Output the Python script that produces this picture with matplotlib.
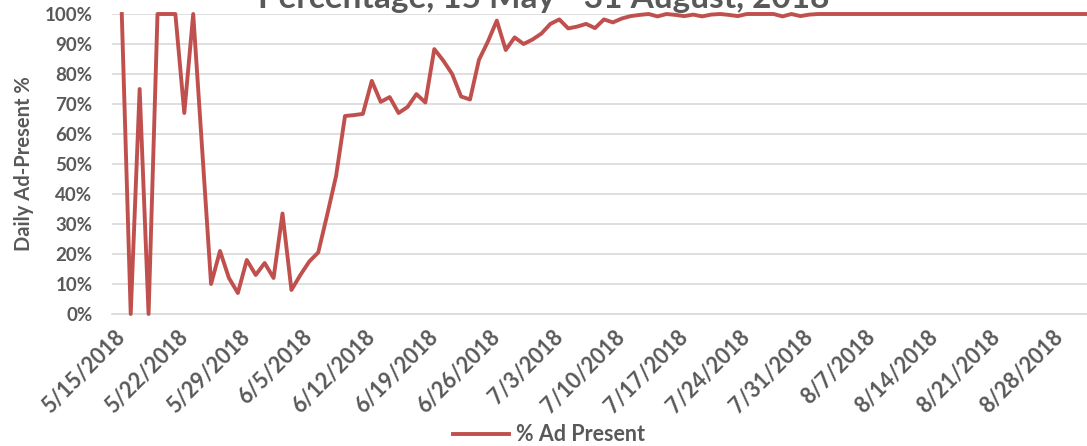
import numpy as np
import pandas as pd
import matplotlib
matplotlib.use("Agg")
import matplotlib.pyplot as plt

plt.rcParams['font.family'] = ['Lato', 'DejaVu Sans']

# daily share of pages with an ad present, 15 May - 31 Aug 2018
dates = pd.date_range('2018-05-15', '2018-08-31', freq='D')
ad_present = [
    100, 0, 75, 0, 100, 100, 100, 67, 100, 55,
    10, 21, 12, 7, 18, 13, 17, 12, 33.5, 8,
    13, 17.5, 20.5, 33, 46, 66, 66.3, 66.7, 77.7, 70.7,
    72.3, 67, 69, 73.3, 70.5, 88.3, 84.5, 80, 72.5, 71.5,
    84.7, 90.8, 97.8, 88, 92.2, 90, 91.5, 93.5, 96.7, 98.2,
    95.2, 95.8, 96.7, 95.3, 98.2, 97.2, 98.5, 99.3, 99.7, 100,
    99.2, 100, 99.7, 99.3, 99.8, 99.2, 99.8, 100, 99.7, 99.3,
    100, 100, 100, 100, 99.2, 100, 99.3, 99.8, 100, 100,
    100, 100, 100, 100, 100, 100, 100, 100, 100, 100,
    100, 100, 100, 100, 100, 100, 100, 100, 100, 100,
    100, 100, 100, 100, 100, 100, 100, 100, 100,
]
tick_dates = pd.date_range('2018-05-15', '2018-08-28', freq='7D')
tick_labels = [f"{d.month}/{d.day}/{d.year}" for d in tick_dates]
y_ticks = list(range(0, 101, 10))

grey = '#595959'
red = '#C0504D'

fig = plt.figure(figsize=(10.87, 4.46), dpi=100)
ax = fig.add_axes([0.103, 0.296, 0.897, 0.6726])

ax.plot(dates, ad_present, color=red, lw=2.8, label='% Ad Present',
        clip_on=False, solid_joinstyle='round', zorder=3)

ax.set_ylim(0, 100)
ax.set_xlim(dates[0] - pd.Timedelta(days=1.1), dates[-1] + pd.Timedelta(days=0.1))
ax.set_yticks(y_ticks)
ax.set_yticklabels([f"{v}%" for v in y_ticks])
ax.set_xticks(tick_dates)
ax.set_xticklabels(tick_labels, rotation=45, ha='right', va='center',
                   rotation_mode='anchor')

ax.grid(axis='y', color='#D9D9D9', lw=1.2)
ax.set_axisbelow(True)
for s in ['top', 'right', 'left']:
    ax.spines[s].set_visible(False)
ax.spines['bottom'].set_color('#D9D9D9')
ax.spines['bottom'].set_linewidth(1.2)
ax.tick_params(axis='y', length=0, pad=14, labelsize=13.5, labelcolor=grey)
ax.tick_params(axis='x', length=0, pad=14, labelsize=15.5, labelcolor=grey)
for lbl in ax.get_xticklabels() + ax.get_yticklabels():
    lbl.set_fontweight('bold')

ax.set_ylabel('Daily Ad-Present %', fontsize=14.5, fontweight='bold', color=grey)
ax.yaxis.set_label_coords(-0.08, 0.5)

fig.text(0.5, 0.982, 'Percentage, 15 May - 31 August, 2018', ha='center',
         va='baseline', fontsize=24, fontweight='bold', color=grey)

leg = fig.legend(loc='lower center', bbox_to_anchor=(0.505, -0.042), frameon=False,
                 fontsize=15.5, handlelength=2.6, handletextpad=0.35)
for t in leg.get_texts():
    t.set_color(grey)
    t.set_fontweight('bold')

fig.savefig('out.png', dpi=100)
